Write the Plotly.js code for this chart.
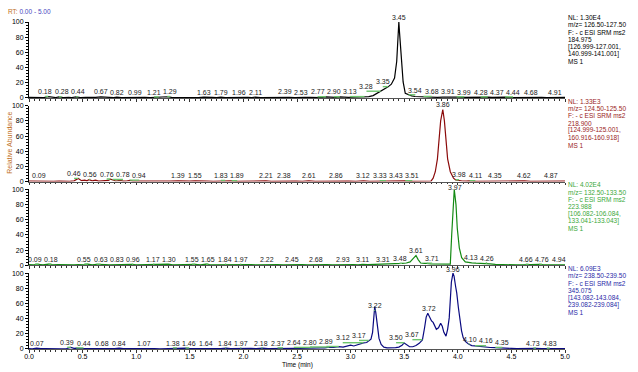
<!DOCTYPE html>
<html><head><meta charset="utf-8">
<script src="https://cdn.plot.ly/plotly-3.0.1.min.js"></script>
<style>html,body{margin:0;padding:0;background:#fff}#chart{width:638px;height:372px}</style>
</head><body><div id="chart"></div>
<script>
// ---------- DATA ----------
const time1 = [0.00,0.05,0.10,0.14,0.18,0.22,0.25,0.28,0.32,0.37,0.40,0.44,0.48,0.53,0.58,0.62,0.67,0.71,0.75,0.79,0.82,0.86,0.90,0.95,0.99,1.03,1.08,1.13,1.17,1.21,1.25,1.29,1.33,1.38,1.43,1.48,1.53,1.58,1.63,1.67,1.71,1.75,1.79,1.83,1.88,1.92,1.96,2.00,2.04,2.08,2.11,2.16,2.21,2.26,2.30,2.35,2.39,2.43,2.48,2.53,2.57,2.62,2.66,2.70,2.73,2.77,2.81,2.86,2.90,2.94,2.98,3.03,3.08,3.13,3.17,3.21,3.24,3.28,3.31,3.35,3.38,3.41,3.43,3.445,3.45,3.456,3.477,3.49,3.51,3.54,3.57,3.60,3.64,3.68,3.72,3.77,3.81,3.86,3.91,3.95,3.99,4.04,4.09,4.14,4.19,4.24,4.28,4.32,4.37,4.41,4.44,4.49,4.54,4.59,4.64,4.68,4.73,4.78,4.83,4.87,4.91,4.95,5.00];
const abund1 = [0.6,0.4,0.8,0.5,1.6,0.6,0.4,1.2,0.5,0.7,0.4,1.4,0.5,0.8,0.4,0.6,1.2,0.5,0.7,0.4,1.1,0.5,0.7,0.4,1.0,0.5,0.7,0.4,0.6,1.0,0.5,1.5,0.6,0.4,0.7,0.4,0.6,0.4,1.1,0.5,0.7,0.4,1.0,0.5,0.7,0.4,1.1,0.5,0.6,0.4,1.0,0.5,0.7,0.4,0.6,0.5,1.3,0.6,0.5,1.1,0.6,0.7,0.5,0.6,0.5,1.2,0.6,0.7,1.2,0.7,0.8,0.9,1.0,1.4,1.6,3.0,5.5,8.5,11,14.5,18,26,48,87,100,87,52,21,6,3.8,2.6,1.8,1.4,1.6,0.9,1.0,0.7,0.9,1.2,0.7,1.1,0.6,0.8,0.5,0.7,0.5,1.0,0.6,1.0,0.6,1.0,0.5,0.7,0.4,0.6,1.0,0.5,0.7,0.4,0.6,1.1,0.5,0.6];

const time2 = [0.00,0.05,0.09,0.13,0.18,0.23,0.28,0.33,0.38,0.42,0.46,0.49,0.52,0.54,0.56,0.59,0.62,0.65,0.68,0.71,0.74,0.76,0.78,0.81,0.85,0.88,0.91,0.94,0.97,1.02,1.08,1.14,1.20,1.26,1.32,1.39,1.44,1.50,1.55,1.60,1.66,1.72,1.78,1.83,1.86,1.89,1.94,2.00,2.06,2.12,2.16,2.21,2.26,2.32,2.38,2.43,2.49,2.55,2.61,2.67,2.73,2.80,2.86,2.92,2.98,3.05,3.12,3.18,3.24,3.28,3.33,3.38,3.43,3.47,3.51,3.56,3.62,3.67,3.72,3.75,3.77,3.79,3.81,3.825,3.84,3.86,3.875,3.89,3.905,3.93,3.96,3.98,4.00,4.04,4.08,4.11,4.16,4.22,4.28,4.35,4.41,4.48,4.55,4.62,4.68,4.74,4.80,4.87,4.93,5.00];
const abund2 = [0.5,0.3,1.0,0.3,0.5,0.3,0.6,0.3,0.4,1.0,4.0,1.2,2.0,1.0,2.6,1.0,1.8,0.6,0.8,0.5,1.5,3.2,2.4,0.8,1.5,0.5,0.8,1.6,0.5,0.4,0.6,0.3,0.5,0.3,0.5,0.9,0.3,0.5,0.9,0.3,0.5,0.3,0.4,1.2,0.4,0.9,0.3,0.5,0.3,0.4,0.3,0.9,0.3,0.5,0.9,0.3,0.5,0.3,0.9,0.3,0.5,0.3,0.9,0.3,0.5,0.3,0.9,0.4,0.5,0.4,1.0,0.4,1.1,0.4,1.0,0.4,0.5,0.3,0.4,0.6,4.5,13,30,55,80,95,80,55,30,13,4.5,2.2,1.5,0.8,0.5,1.0,0.4,0.5,0.3,0.9,0.4,0.5,0.3,0.9,0.3,0.5,0.3,1.0,0.4,0.5];

const time3 = [0.00,0.04,0.09,0.13,0.18,0.22,0.27,0.32,0.37,0.42,0.46,0.51,0.55,0.59,0.63,0.67,0.71,0.75,0.79,0.83,0.87,0.92,0.96,1.00,1.05,1.09,1.13,1.17,1.21,1.26,1.30,1.34,1.39,1.44,1.49,1.55,1.60,1.65,1.69,1.74,1.79,1.84,1.88,1.92,1.97,2.02,2.07,2.12,2.17,2.22,2.27,2.32,2.37,2.41,2.45,2.50,2.55,2.60,2.64,2.68,2.73,2.78,2.83,2.88,2.93,2.98,3.03,3.07,3.11,3.16,3.21,3.26,3.31,3.35,3.40,3.44,3.48,3.52,3.555,3.585,3.61,3.63,3.654,3.69,3.71,3.75,3.80,3.85,3.90,3.93,3.943,3.958,3.967,3.983,3.995,4.014,4.036,4.07,4.10,4.13,4.17,4.22,4.26,4.30,4.35,4.40,4.45,4.50,4.55,4.60,4.66,4.70,4.76,4.80,4.85,4.90,4.94,5.00];
const abund3 = [0.8,0.5,1.4,0.6,1.5,0.6,0.8,0.5,0.7,0.5,0.8,0.6,1.5,0.7,1.3,0.6,0.8,0.5,0.7,1.2,0.6,0.8,1.3,0.6,0.8,0.5,0.7,1.2,0.6,0.8,1.6,0.6,0.8,0.5,0.7,1.3,0.6,1.5,0.6,0.7,0.5,1.2,0.6,0.7,1.3,0.6,0.8,0.5,0.7,1.2,0.6,0.8,0.5,0.7,1.2,0.6,0.8,0.5,0.7,1.2,0.6,0.8,0.6,0.8,1.3,0.7,0.9,0.6,1.3,0.8,1.0,0.8,1.6,1.0,1.5,1.8,2.4,3.0,4.5,9,12.8,7.5,3.0,2.5,2.6,1.8,1.5,1.2,1.0,1.5,40,89,100,80,49,23,10,4.5,3.5,3.2,2.8,2.6,2.8,2.0,1.2,0.8,0.6,0.8,0.5,0.7,1.2,0.6,1.2,0.6,0.7,0.5,1.2,0.6];

const time4 = [0.00,0.03,0.07,0.11,0.15,0.20,0.25,0.30,0.35,0.39,0.42,0.44,0.48,0.53,0.58,0.63,0.68,0.72,0.76,0.80,0.84,0.88,0.93,0.98,1.03,1.07,1.12,1.17,1.22,1.27,1.32,1.38,1.42,1.46,1.50,1.55,1.60,1.64,1.69,1.74,1.79,1.84,1.88,1.92,1.97,2.02,2.07,2.12,2.18,2.23,2.28,2.33,2.37,2.42,2.47,2.52,2.56,2.60,2.64,2.68,2.72,2.76,2.80,2.84,2.89,2.93,2.97,3.00,3.03,3.06,3.09,3.12,3.15,3.17,3.19,3.205,3.215,3.225,3.235,3.25,3.265,3.285,3.31,3.34,3.38,3.42,3.45,3.48,3.50,3.52,3.55,3.58,3.61,3.64,3.67,3.69,3.705,3.72,3.735,3.755,3.77,3.785,3.80,3.82,3.84,3.855,3.87,3.89,3.905,3.92,3.94,3.955,3.965,3.98,3.99,4.005,4.02,4.035,4.05,4.07,4.10,4.13,4.16,4.20,4.25,4.30,4.35,4.40,4.45,4.50,4.55,4.60,4.65,4.69,4.73,4.78,4.83,4.88,4.94,5.00];
const abund4 = [0.5,0.3,1.2,0.4,0.6,0.3,0.5,0.3,0.6,2.0,0.8,1.2,0.4,0.6,0.3,0.5,1.2,0.4,0.6,0.4,1.2,0.4,0.6,0.3,0.5,1.1,0.4,0.6,0.3,0.5,0.4,1.2,0.5,1.1,0.4,0.6,0.4,1.1,0.4,0.6,0.4,1.2,0.5,0.6,1.2,0.5,0.7,0.5,1.2,0.6,0.8,0.6,1.3,0.8,1.0,0.8,1.1,1.0,1.8,1.4,1.6,1.5,2.4,2.0,3.0,2.6,3.5,5.0,4.0,5.5,6.0,8.0,8.5,11,13,22,45,56,48,28,14,6,2.5,1.5,1.2,1.8,2.5,5.0,8.0,6.0,3.0,3.0,4.5,7.5,12,28,42,47,42,37,35,31,26,28,34,30,22,17,26,41,88,100,96,82,74,55,38,24,15,10,6.5,4.5,4.0,3.2,2.5,2.0,1.8,1.2,1.0,0.8,0.6,0.8,0.5,0.6,1.0,0.5,0.9,0.4,0.5,0.4];

const peaks1 = [0.18,0.28,0.44,0.67,0.82,0.99,1.21,1.29,1.63,1.79,1.96,2.11,2.39,2.53,2.77,2.90,3.13,3.28,3.35,3.45,3.54,3.68,3.91,3.99,4.28,4.37,4.44,4.68,4.91];
const peaks2 = [0.09,0.46,0.56,0.76,0.78,0.94,1.39,1.55,1.83,1.89,2.21,2.38,2.61,2.86,3.12,3.33,3.43,3.51,3.86,3.98,4.11,4.35,4.62,4.87];
const peaks3 = [0.09,0.18,0.55,0.63,0.83,0.96,1.17,1.30,1.55,1.65,1.84,1.97,2.22,2.45,2.68,2.93,3.11,3.31,3.48,3.61,3.71,3.97,4.13,4.26,4.66,4.76,4.94];
const peaks4 = [0.07,0.39,0.44,0.68,0.84,1.07,1.38,1.46,1.64,1.84,1.97,2.18,2.37,2.64,2.80,2.89,3.12,3.17,3.22,3.50,3.67,3.72,3.96,4.10,4.16,4.35,4.73,4.83];

const info1 = ['NL: 1.30E4','m/z= 126.50-127.50','F: - c ESI SRM ms2','184.975','[126.999-127.001,','140.999-141.001]','MS 1'];
const info2 = ['NL: 1.33E3','m/z= 124.50-125.50','F: - c ESI SRM ms2','218.900','[124.999-125.001,','160.916-160.918]','MS 1'];
const info3 = ['NL: 4.02E4','m/z= 132.50-133.50','F: - c ESI SRM ms2','223.988','[106.082-106.084,','133.041-133.043]','MS 1'];
const info4 = ['NL: 6.09E3','m/z= 238.50-239.50','F: - c ESI SRM ms2','345.075','[143.082-143.084,','239.082-239.084]','MS 1'];

const xTickVals = [0,0.5,1,1.5,2,2.5,3,3.5,4,4.5,5];
const yTickVals = [0,20,40,60,80,100];

// ---------- STYLE ----------
const FONT = 'Liberation Sans, Arial, sans-serif';
const lineColors = ['#000000','#8b0a0a','#138a13','#0a0a80'];
const infoColors = ['#000000','#9a1c1c','#3aa83a','#2a2aa8'];
const panels = [
  {t: time1, y: abund1, p: peaks1, info: info1},
  {t: time2, y: abund2, p: peaks2, info: info2},
  {t: time3, y: abund3, p: peaks3, info: info3},
  {t: time4, y: abund4, p: peaks4, info: info4}
];

const W = 638, H = 372, ML = 29, MR = 73, MT = 22, MB = 22.5;
const plotH = H - MT - MB, plotW = W - ML - MR;
const panelPx = 76, gapPx = (plotH - 4 * panelPx) / 3;
const labelSep = 16.3 / (plotW / 5); // min label spacing in minutes

function interp(ts, ys, x) {
  if (x <= ts[0]) return ys[0];
  for (let i = 1; i < ts.length; i++) {
    if (x <= ts[i]) {
      const f = (x - ts[i-1]) / (ts[i] - ts[i-1]);
      return ys[i-1] + f * (ys[i] - ys[i-1]);
    }
  }
  return ys[ys.length - 1];
}
// isotonic (pool adjacent violators) spreading of labels
function spread(ts, ws, d) {
  const blocks = [];
  for (let i = 0; i < ts.length; i++) {
    let b = {sw: ws[i], swz: ws[i] * (ts[i] - i * d), s: i, e: i};
    while (blocks.length) {
      const p = blocks[blocks.length - 1];
      if (p.swz / p.sw > b.swz / b.sw) { blocks.pop(); b = {sw: p.sw + b.sw, swz: p.swz + b.swz, s: p.s, e: b.e}; }
      else break;
    }
    blocks.push(b);
  }
  const xs = [];
  blocks.forEach(b => { const m = b.swz / b.sw; for (let i = b.s; i <= b.e; i++) xs[i] = m + i * d; });
  return xs;
}

const traces = [], annotations = [], shapes = [];
const layout = {
  width: W, height: H,
  margin: {l: ML, r: MR, t: MT, b: MB, pad: 0},
  paper_bgcolor: '#fff', plot_bgcolor: '#fff',
  showlegend: false,
  font: {family: FONT, size: 7, color: '#000'}
};

panels.forEach((pn, i) => {
  const k = i + 1, sfx = k === 1 ? '' : String(k);
  const top = 1 - i * (panelPx + gapPx) / plotH;
  const bot = top - panelPx / plotH;
  traces.push({
    type: 'scatter', mode: 'lines', x: pn.t, y: pn.y,
    xaxis: 'x' + sfx, yaxis: 'y' + sfx,
    line: {color: lineColors[i], width: 1.2}, hoverinfo: 'skip'
  });
  layout['xaxis' + sfx] = {
    domain: [0, 1], anchor: 'y' + sfx, range: [0, 5], fixedrange: true,
    showgrid: false, zeroline: false, showline: true, linecolor: '#555', linewidth: 1.2,
    ticks: 'outside', ticklen: 2.5, tickcolor: '#333', tickvals: xTickVals,
    ticktext: xTickVals.map(v => v.toFixed(1)), ticklabelstandoff: -2,
    minor: {dtick: 0.05, ticks: 'outside', ticklen: 1.5, tickcolor: '#333'},
    showticklabels: k === 4, tickfont: {size: 7, family: FONT, color: '#000'}
  };
  layout['yaxis' + sfx] = {
    domain: [bot, top], anchor: 'x' + sfx, range: [0, 100], fixedrange: true,
    showgrid: false, zeroline: false, showline: true, linecolor: '#000', linewidth: 1,
    ticks: 'outside', ticklen: 3, tickcolor: '#000', tickvals: yTickVals,
    minor: {dtick: 4, ticks: 'outside', ticklen: 1.8, tickcolor: '#000'},
    tickfont: {size: 7, family: FONT, color: '#000'}
  };
  // peak labels
  const hs = pn.p.map(t => interp(pn.t, pn.y, t));
  const ws = hs.map(h => 1 + h * h);
  const xs = spread(pn.p, ws, labelSep);
  pn.p.forEach((t, j) => {
    annotations.push({
      xref: 'x' + sfx, yref: 'y' + sfx, x: xs[j], y: hs[j],
      text: t.toFixed(2), showarrow: false, xanchor: 'center', yanchor: 'bottom',
      font: {size: 7, family: FONT, color: '#222'}, borderpad: 0, yshift: 0.5
    });
    if (Math.abs(xs[j] - t) > 0.01) {
      shapes.push({type: 'line', xref: 'x' + sfx, yref: 'y' + sfx,
        x0: xs[j], x1: t, y0: hs[j] + 0.3, y1: hs[j] + 0.3,
        line: {color: '#6cc46c', width: 1.4}});
    }
  });
  // right info block
  pn.info.forEach((s, j) => {
    annotations.push({
      xref: 'paper', yref: 'paper', x: 1, y: top, xanchor: 'left', yanchor: 'middle',
      xshift: 2, yshift: 4.5 - j * 7.3, text: s, showarrow: false, borderpad: 0,
      font: {size: 6.5, family: FONT, color: infoColors[i]}
    });
  });
});

annotations.push({
  xref: 'paper', yref: 'paper', x: -22 / plotW, y: 1 + 11 / plotH, xanchor: 'left', yanchor: 'middle',
  showarrow: false, borderpad: 0,
  text: '<span style="color:#c0701e">RT:</span> <span style="color:#4848c0">0.00 - 5.00</span>',
  font: {size: 6.5, family: FONT}
});
annotations.push({
  xref: 'paper', yref: 'paper', x: -19 / plotW, y: 1 - (143 - MT) / plotH, xanchor: 'center', yanchor: 'middle',
  showarrow: false, textangle: -90, text: 'Relative Abundance', borderpad: 0,
  font: {size: 7, family: FONT, color: '#c0701e'}
});
annotations.push({
  xref: 'paper', yref: 'paper', x: (297 - ML) / plotW, y: -(366 - (H - MB)) / plotH, xanchor: 'center', yanchor: 'middle',
  showarrow: false, text: 'Time (min)', borderpad: 0,
  font: {size: 6.5, family: FONT, color: '#000'}
});

layout.annotations = annotations;
layout.shapes = shapes;
Plotly.newPlot('chart', traces, layout, {staticPlot: true, displayModeBar: false});
</script>
</body></html>
